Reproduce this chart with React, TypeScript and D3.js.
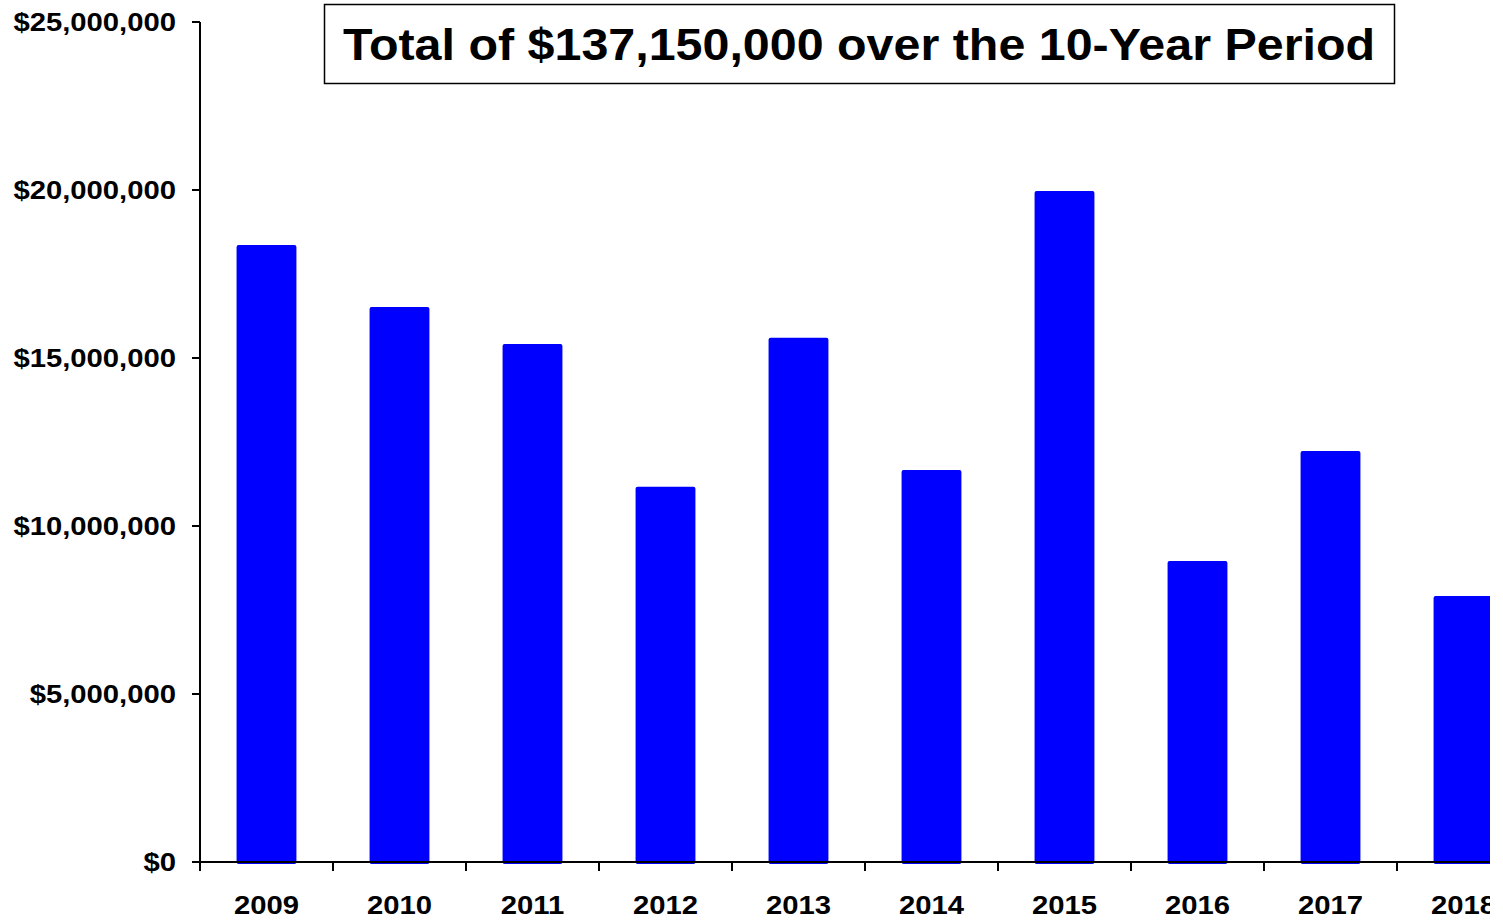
import React from "react";
import * as d3 from "d3";

const years = ["2009", "2010", "2011", "2012", "2013", "2014", "2015", "2016", "2017", "2018"];
const amounts = [18360000, 16520000, 15420000, 11170000, 15600000, 11670000, 19970000, 8960000, 12230000, 7920000];
const yTicks = [0, 5000000, 10000000, 15000000, 20000000, 25000000];
const titleText = "Total of $137,150,000 over the 10-Year Period";

const W = 1503;
const H = 922;
const left = 200;
const right = 1530;
const top = 22;
const bottom = 862;
const SX = 1.17;

export default function App() {
  const x = d3.scaleBand<string>().domain(years).range([left, right]).paddingInner(0.55).paddingOuter(0.275);
  const y = d3.scaleLinear().domain([0, 25000000]).range([bottom, top]);
  const step = x.step();
  const fmt = (v: number) => "$" + d3.format(",")(v);
  const font = "'Liberation Sans', Arial, sans-serif";
  const boundaries = years.map((_, i) => left + i * step).concat([left + years.length * step]);

  return (
    <svg width={W} height={H} style={{ position: "absolute", left: 0, top: 0, background: "#fff" }} fontFamily={font}>
      <defs>
        <clipPath id="clip">
          <rect x={0} y={0} width={1490} height={H} />
        </clipPath>
      </defs>
      <rect x={0} y={0} width={W} height={H} fill="#fff" />
      <g clipPath="url(#clip)">
        {years.map((yr, i) => (
          <rect
            key={yr}
            x={x(yr)}
            y={y(amounts[i])}
            width={x.bandwidth()}
            height={y(0) - y(amounts[i]) + 2}
            fill="#0000FF"
            rx={2}
          />
        ))}
        {/* y axis */}
        <line x1={left} x2={left} y1={top} y2={bottom} stroke="#000" strokeWidth={2} />
        {yTicks.map((t) => (
          <g key={t}>
            <line x1={left - 8} x2={left} y1={y(t)} y2={y(t)} stroke="#000" strokeWidth={2} />
            <g transform={`translate(176,${y(t) + 9}) scale(${SX},1)`}>
              <text x={0} y={0} textAnchor="end" fontSize={25} fontWeight="bold" fill="#000">
                {fmt(t)}
              </text>
            </g>
          </g>
        ))}
        {/* x axis */}
        <line x1={left} x2={right} y1={bottom} y2={bottom} stroke="#000" strokeWidth={2} />
        {boundaries.map((b, i) => (
          <line key={i} x1={b} x2={b} y1={bottom} y2={bottom + 9} stroke="#000" strokeWidth={2} />
        ))}
        {years.map((yr) => (
          <g key={yr} transform={`translate(${(x(yr) as number) + x.bandwidth() / 2},914) scale(${SX},1)`}>
            <text x={0} y={0} textAnchor="middle" fontSize={25} fontWeight="bold" fill="#000">
              {yr}
            </text>
          </g>
        ))}
        {/* title */}
        <rect x={324.5} y={4.5} width={1070} height={79} fill="#fff" stroke="#000" strokeWidth={1.5} />
        <g transform={`translate(859,60) scale(1.1,1)`}>
          <text x={0} y={0} textAnchor="middle" fontSize={44} fontWeight="bold" fill="#000">
            {titleText}
          </text>
        </g>
      </g>
    </svg>
  );
}
